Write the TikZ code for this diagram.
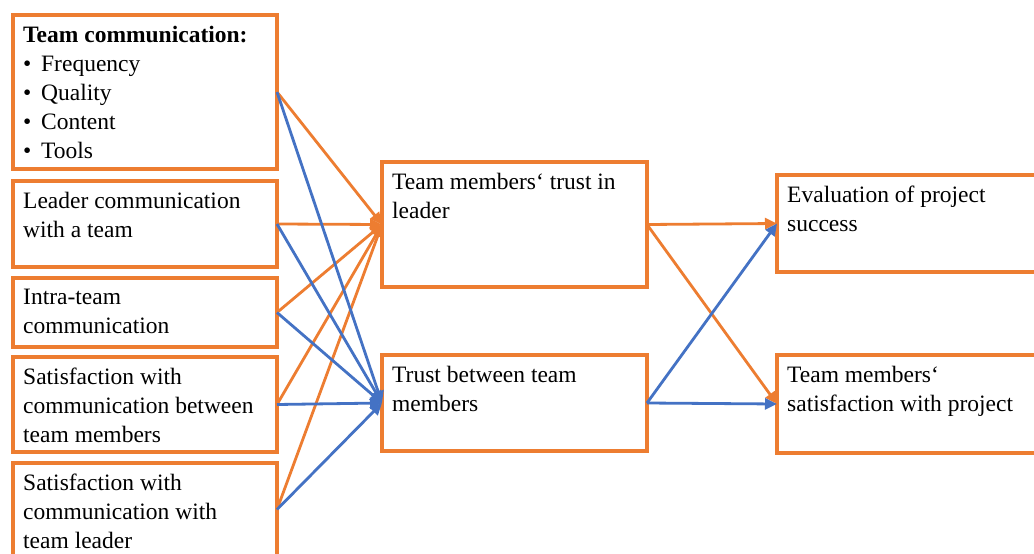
\documentclass[tikz,border=0pt]{standalone}
\usepackage{fontspec}
\setmainfont{Liberation Serif}
\usetikzlibrary{arrows.meta,calc}
\definecolor{boxorange}{HTML}{ED7D31}
\definecolor{linkblue}{HTML}{4472C4}
\begin{document}
\begin{tikzpicture}[x=1pt,y=-1pt,
  box/.style={draw=boxorange,line width=3.5pt,fill=white,rectangle,anchor=north west,inner sep=0pt,outer sep=0pt},
  lbl/.style={anchor=north west,align=left,inner sep=0pt,font=\fontsize{23.5}{29}\selectfont,execute at begin node=\strut},
  oarr/.style={draw=boxorange,line width=2.8pt,-{Triangle[length=12pt,width=11pt]}},
  barr/.style={draw=linkblue,line width=2.8pt,-{Triangle[length=12pt,width=11pt]}}]
\clip (0,0) rectangle (1034,554);
\fill[white] (0,0) rectangle (1034,554);

% input factors (left column)
\node[box,minimum width=264pt,minimum height=154pt] (b1) at (13,15) {};
\node[box,minimum width=264pt,minimum height=86pt]  (b2) at (13,181) {};
\node[box,minimum width=264pt,minimum height=69pt]  (b3) at (13,278) {};
\node[box,minimum width=264pt,minimum height=95pt]  (b4) at (13,357) {};
\node[box,minimum width=264pt,minimum height=93pt]  (b5) at (13,463) {};

% mediators (middle column)
\node[box,minimum width=265pt,minimum height=125pt] (ta) at (382,162) {};
\node[box,minimum width=265pt,minimum height=96pt]  (tb) at (382,355) {};

% outcomes (right column)
\node[box,minimum width=270pt,minimum height=97pt] (oe) at (777,175) {};
\node[box,minimum width=270pt,minimum height=98pt] (os) at (777,355) {};

% box texts: first baseline about 31pt below the box top (strut height 20.3pt)
\node[lbl] (l1) at ($(b1.north west)+(10,11)$) {\textbf{Team communication:}\\
  \makebox[18pt][l]{•}Frequency\\
  \makebox[18pt][l]{•}Quality\\
  \makebox[18pt][l]{•}Content\\
  \makebox[18pt][l]{•}Tools};
\node[lbl] (l2) at ($(b2.north west)+(10,11)$) {Leader communication\\ with a team};
\node[lbl] (l3) at ($(b3.north west)+(10,11)$) {Intra-team\\ communication};
\node[lbl] (l4) at ($(b4.north west)+(10,11)$) {Satisfaction with\\ communication between\\ team members};
\node[lbl] (l5) at ($(b5.north west)+(10,11)$) {Satisfaction with\\ communication with\\ team leader};
\node[lbl] (la) at ($(ta.north west)+(10,11)$) {Team members‘ trust in\\ leader};
\node[lbl] (lb) at ($(tb.north west)+(10,11)$) {Trust between team\\ members};
\node[lbl] (le) at ($(oe.north west)+(10,11)$) {Evaluation of project\\ success};
\node[lbl] (ls) at ($(os.north west)+(10,11)$) {Team members‘\\ satisfaction with project};

% links into trust in leader
\foreach \s in {b1,b2,b3,b4,b5} \draw[oarr] (\s.east) -- (ta.west);
% links into trust between members
\foreach \s in {b1,b2,b3,b4,b5} \draw[barr] (\s.east) -- (tb.west);

% links into outcomes
\draw[oarr] (ta.east) -- (oe.west);
\draw[oarr] (ta.east) -- (os.west);
\draw[barr] (tb.east) -- (oe.west);
\draw[barr] (tb.east) -- (os.west);
\end{tikzpicture}
\end{document}
